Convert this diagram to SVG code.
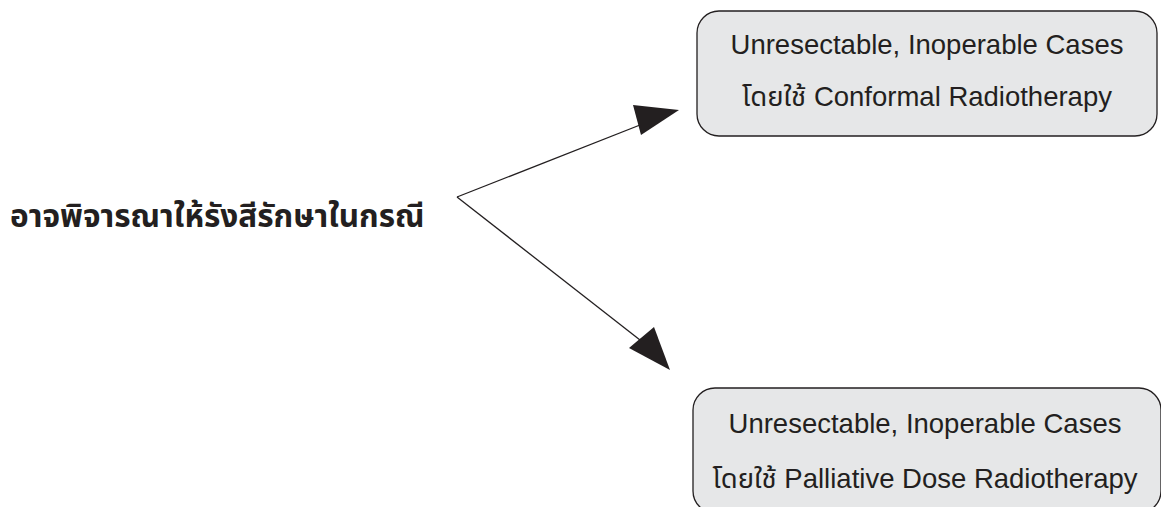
<svg xmlns="http://www.w3.org/2000/svg" width="1161" height="507" viewBox="0 0 1161 507">
<style>
.box{fill:#e6e7e8;stroke:#231f20;stroke-width:1.3}
.t{font-family:"Liberation Sans","Noto Sans Thai","Noto Sans",sans-serif;font-size:27.5px;fill:#231f20;text-anchor:middle}
.h{font-family:"Noto Sans Thai","Noto Sans","DejaVu Sans",sans-serif;font-size:31.5px;font-weight:bold;fill:#231f20}
.c{stroke:#231f20;stroke-width:1.3;fill:none}
.ah{fill:#231f20}
</style>
<rect width="1161" height="507" fill="#ffffff"/>
<g id="source">
<text class="h" x="10" y="227">อาจพิจารณาให้รังสีรักษาในกรณี</text>
</g>
<g id="box-conformal">
<rect class="box" x="697" y="11" width="460" height="125" rx="22"/>
<text class="t" x="927" y="54">Unresectable, Inoperable Cases</text>
<text class="t" x="927" y="106">โดยใช้ Conformal Radiotherapy</text>
</g>
<g id="box-palliative">
<rect class="box" x="693" y="388" width="468" height="125" rx="22"/>
<text class="t" x="925" y="433">Unresectable, Inoperable Cases</text>
<text class="t" x="925" y="488">โดยใช้ Palliative Dose Radiotherapy</text>
</g>
<g id="connectors">
<line class="c" x1="457" y1="197" x2="640" y2="125"/>
<polygon class="ah" points="679,110 633,105 641,135"/>
<line class="c" x1="457" y1="197" x2="640" y2="340"/>
<polygon class="ah" points="670,370 629,348 654,327"/>
</g>
</svg>
